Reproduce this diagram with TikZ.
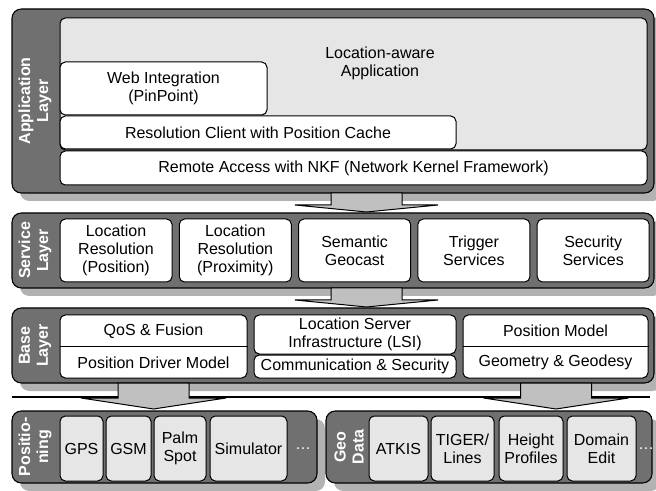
\documentclass[tikz,border=0pt]{standalone}
\usepackage{fontspec}
\setmainfont{Liberation Sans}
\definecolor{layergray}{HTML}{707070}
\definecolor{boxgray}{HTML}{E6E6E6}
\definecolor{arrowgray}{HTML}{C0C0C0}
\begin{document}
\begin{tikzpicture}[x=0.75pt,y=-0.75pt,
    font=\fontsize{12}{13.5}\selectfont,
    sz/.style 2 args={minimum width=#1*0.75pt,minimum height=#2*0.75pt,inner sep=0pt},
    layerbox/.style={draw=black,fill=layergray,rounded corners=7pt,line width=0.8pt},
    dropshadow/.style={fill=black,fill opacity=0.3,rounded corners=7pt},
    wbox/.style={draw=black,fill=white,rounded corners=4pt,align=center,line width=0.75pt},
    gbox/.style={wbox,fill=boxgray},
    txt/.style={align=center,inner sep=0pt},
    lbl/.style={text=white,font=\fontsize{12}{13.5}\selectfont\bfseries,align=center,rotate=90,inner sep=0pt},
    barrow/.style={draw=black,fill=arrowgray,line width=0.75pt,line join=miter}]
  \useasboundingbox (0,0) rectangle (656,491);
  % shadows
  \fill[dropshadow] (20,17) rectangle (662,201);
  \fill[dropshadow] (20,221) rectangle (662,296);
  \fill[dropshadow] (20,316) rectangle (662,391);
  \fill[dropshadow] (20,419) rectangle (325,491);
  \fill[dropshadow] (334,419) rectangle (660,491);
  \draw[line width=2.2pt] (12,397) -- (650,397);
  % layers
  \node (applayer) [layerbox, sz={642}{184}] at (333,101) {};
  \node (srvlayer) [layerbox, sz={642}{75}] at (333,250.5) {};
  \node (baselayer) [layerbox, sz={642}{75}] at (333,345.5) {};
  \node (poslayer) [layerbox, sz={305}{72}] at (164.5,447) {};
  \node (geolayer) [layerbox, sz={326}{72}] at (489,447) {};
  \node (applbl) [lbl] at (35,101) {Application\\Layer};
  \node (srvlbl) [lbl] at (35,250.5) {Service\\Layer};
  \node (baselbl) [lbl] at (35,345.5) {Base\\Layer};
  \node (poslbl) [lbl] at (35,447) {Positio-\\ning};
  \node (geolbl) [lbl] at (349,447) {Geo\\Data};
  % application layer
  \node (locapp) [gbox, sz={587}{132}] at (353.5,84) {};
  \node (loctxt) [txt] at (380,63) {Location-aware\\Application};
  \node (web) [wbox, sz={207}{53}] at (163.5,88.5) {Web Integration\\(PinPoint)};
  \node (rescl) [wbox, sz={396}{33}] at (258,132.5) {Resolution Client with Position Cache};
  \node (remote) [wbox, sz={587}{34}] at (353.5,168) {Remote Access with NKF (Network Kernel Framework)};
  % service layer
  \node (lrpos) [wbox, sz={112}{63}] at (116,250.5) {Location\\Resolution\\(Position)};
  \node (lrprox) [wbox, sz={112}{63}] at (235.3,250.5) {Location\\Resolution\\(Proximity)};
  \node (geocast) [wbox, sz={112}{63}] at (354.6,250.5) {Semantic\\Geocast};
  \node (trigger) [wbox, sz={112}{63}] at (473.9,250.5) {Trigger\\Services};
  \node (security) [wbox, sz={112}{63}] at (593.2,250.5) {Security\\Services};
  % base layer
  \node (qosframe) [wbox, sz={187}{63}] at (153.5,346.5) {};
  \draw (qosframe.west) -- (qosframe.east);
  \node (qos) [txt] at (153.5,331) {QoS \& Fusion};
  \node (driver) [txt] at (153.5,362.5) {Position Driver Model};
  \node (lsi) [wbox, sz={202}{39}] at (355,334.5) {Location Server\\Infrastructure (LSI)};
  \node (comm) [wbox, sz={202}{23}] at (355,366.5) {Communication \& Security};
  \node (pmframe) [wbox, sz={185}{63}] at (555.5,346.5) {};
  \draw (pmframe.west) -- (pmframe.east);
  \node (posmodel) [txt] at (555.5,331) {Position Model};
  \node (geodesy) [txt] at (555.5,362.5) {Geometry \& Geodesy};
  % positioning
  \node (gps) [gbox, sz={43}{65}] at (81.5,448.5) {GPS};
  \node (gsm) [gbox, sz={45}{65}] at (128.5,448.5) {GSM};
  \node (palm) [gbox, sz={52}{65}] at (180,448.5) {Palm\\Spot};
  \node (sim) [gbox, sz={77}{65}] at (248.5,448.5) {Simulator};
  \node (posdots) [txt, text=white] at (303,449) {\dots};
  % geo data
  \node (atkis) [gbox, sz={59}{65}] at (398.5,448.5) {ATKIS};
  \node (tiger) [gbox, sz={63}{65}] at (462.5,448.5) {TIGER/\\Lines};
  \node (height) [gbox, sz={64}{65}] at (531,448.5) {Height\\Profiles};
  \node (domain) [gbox, sz={69}{65}] at (601.5,448.5) {Domain\\Edit};
  \node (geodots) [txt, text=white] at (646,449) {\dots};
  % arrows between layers
  \draw[barrow, shift={(366.5,193)}] (-35.5,0) -- (-35.5,12) -- (-71.5,12) -- (0,19) -- (71.5,12) -- (35.5,12) -- (35.5,0) -- cycle;
  \draw[barrow, shift={(366.5,288)}] (-35.5,0) -- (-35.5,12) -- (-71.5,12) -- (0,19) -- (71.5,12) -- (35.5,12) -- (35.5,0) -- cycle;
  \draw[barrow, shift={(153.5,383)}] (-35.5,0) -- (-35.5,15) -- (-72.5,15) -- (0,26) -- (72.5,15) -- (35.5,15) -- (35.5,0) -- cycle;
  \draw[barrow, shift={(556,383)}] (-35.5,0) -- (-35.5,15) -- (-72.5,15) -- (0,26) -- (72.5,15) -- (35.5,15) -- (35.5,0) -- cycle;
\end{tikzpicture}
\end{document}
